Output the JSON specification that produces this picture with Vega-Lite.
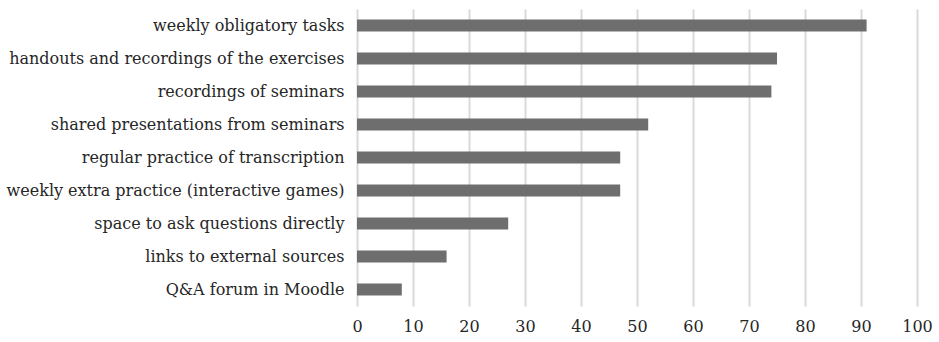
{
  "$schema": "https://vega.github.io/schema/vega-lite/v6.json",
  "autosize": {"type": "none"},
  "padding": {"left": 357, "top": 9, "right": 22, "bottom": 36},
  "width": 560,
  "height": 297,
  "background": "white",
  "config": {
    "view": {"stroke": null},
    "font": "DejaVu Serif"
  },
  "data": {
    "values": [
      {"item": "weekly obligatory tasks", "value": 91},
      {"item": "handouts and recordings of the exercises", "value": 75},
      {"item": "recordings of seminars", "value": 74},
      {"item": "shared presentations from seminars", "value": 52},
      {"item": "regular practice of transcription", "value": 47},
      {"item": "weekly extra practice (interactive games)", "value": 47},
      {"item": "space to ask questions directly", "value": 27},
      {"item": "links to external sources", "value": 16},
      {"item": "Q&A forum in Moodle", "value": 8}
    ]
  },
  "mark": {"type": "bar", "color": "#6e6e6e"},
  "encoding": {
    "y": {
      "field": "item",
      "type": "nominal",
      "sort": null,
      "scale": {"paddingInner": 0.64, "paddingOuter": 0.32},
      "axis": {
        "title": null,
        "ticks": false,
        "domain": false,
        "labelPadding": 13,
        "labelFontSize": 16,
        "labelColor": "#262626",
        "labelLimit": 400
      }
    },
    "x": {
      "field": "value",
      "type": "quantitative",
      "scale": {"domain": [0, 100], "nice": false},
      "axis": {
        "title": null,
        "values": [0, 10, 20, 30, 40, 50, 60, 70, 80, 90, 100],
        "ticks": false,
        "domain": false,
        "grid": true,
        "gridColor": "#d9d9d9",
        "gridWidth": 2,
        "labelFlush": false,
        "labelOverlap": false,
        "labelPadding": 12,
        "labelFontSize": 16,
        "labelColor": "#262626"
      }
    }
  }
}
